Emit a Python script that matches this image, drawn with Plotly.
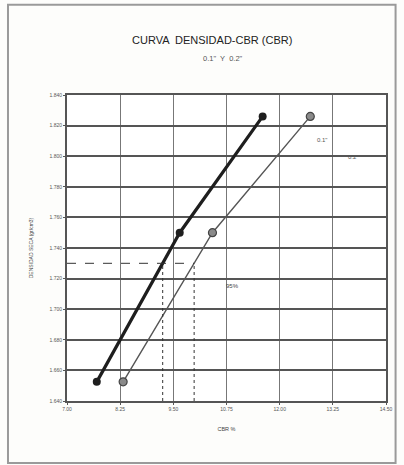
import numpy as np
import plotly.graph_objects as go

# ---- data ----
cbr_01 = [7.70, 9.65, 11.60]          # CBR % at 0.1"
cbr_02 = [8.32, 10.42, 12.72]         # CBR % at 0.2"
density = [1.6525, 1.750, 1.826]      # dry density gr/cm3
target_density = 1.730               # 95% of max density
x_ticks = [7.00, 8.25, 9.50, 10.75, 12.00, 13.25, 14.50]
y_ticks = [1.640, 1.660, 1.680, 1.700, 1.720, 1.740, 1.760, 1.780, 1.800, 1.820, 1.840]

x01 = float(np.interp(target_density, density, cbr_01))
x02 = float(np.interp(target_density, density, cbr_02))

fig = go.Figure()
fig.add_trace(go.Scatter(
    x=cbr_01, y=density, mode="lines+markers",
    line=dict(color="#1e1e1e", width=3.2),
    marker=dict(color="#1e1e1e", size=8, symbol="circle"),
    showlegend=False))
fig.add_trace(go.Scatter(
    x=cbr_02, y=density, mode="lines+markers",
    line=dict(color="#555555", width=1.4),
    marker=dict(color="#8a8a8a", size=8, symbol="circle",
                line=dict(color="#444444", width=1.2)),
    showlegend=False))

# dashed reading lines
fig.add_shape(type="line", x0=x_ticks[0], x1=x02, y0=target_density, y1=target_density,
              line=dict(color="#333333", width=1, dash="dash"))
for xv in (x01, x02):
    fig.add_shape(type="line", x0=xv, x1=xv, y0=y_ticks[0], y1=target_density,
                  line=dict(color="#333333", width=1, dash="dot"))

# outer page frame
fig.add_shape(type="rect", xref="paper", yref="paper",
              x0=-0.185, x1=1.03, y0=-0.203, y1=1.295,
              line=dict(color="#9a9a9a", width=2))

fig.add_annotation(x=13.00, y=1.8105, text='0.1"', showarrow=False,
                   font=dict(size=6, color="#555"))
fig.add_annotation(x=13.72, y=1.7993, text='0.2"', showarrow=False,
                   font=dict(size=6, color="#555"))
fig.add_annotation(x=10.90, y=1.715, text='95%', showarrow=False,
                   font=dict(size=6, color="#444"))

# title and subtitle
fig.add_annotation(xref="paper", yref="paper", x=0.455, y=1.2066,
                   text="CURVA  DENSIDAD-CBR (CBR)", showarrow=False,
                   font=dict(size=11, color="#222"))
fig.add_annotation(xref="paper", yref="paper", x=0.49, y=1.141,
                   text='0.1"  Y  0.2"', showarrow=False,
                   font=dict(size=7.5, color="#555"))

fig.update_layout(
    width=404, height=465,
    margin=dict(l=67, r=12, t=95, b=64),
    paper_bgcolor="#fdfdfb", plot_bgcolor="#ffffff",
    font=dict(family="Liberation Sans, Arial, sans-serif", color="#333"),
    xaxis=dict(range=[x_ticks[0], x_ticks[-1]], tickvals=x_ticks,
               ticktext=[f"{v:.2f}" for v in x_ticks],
               showgrid=True, gridcolor="#777", gridwidth=1,
               showline=True, linecolor="#555", linewidth=2, mirror=True,
               ticks="outside", ticklen=2, tickcolor="#555",
               tickfont=dict(size=5, color="#555"),
               zeroline=False,
               title=dict(text="CBR %", font=dict(size=5.5, color="#444"), standoff=16)),
    yaxis=dict(range=[y_ticks[0], y_ticks[-1]], tickvals=y_ticks,
               ticktext=[f"{v:.3f}" for v in y_ticks],
               showgrid=True, gridcolor="#555", gridwidth=1.8,
               showline=True, linecolor="#555", linewidth=2, mirror=True,
               ticks="outside", ticklen=2, tickcolor="#555",
               tickfont=dict(size=5, color="#555"),
               zeroline=False,
               title=dict(text="DENSIDAD SECA (gr/cm3)", font=dict(size=5, color="#444"),
                          standoff=16)),
)

fig.write_html("out.html")
